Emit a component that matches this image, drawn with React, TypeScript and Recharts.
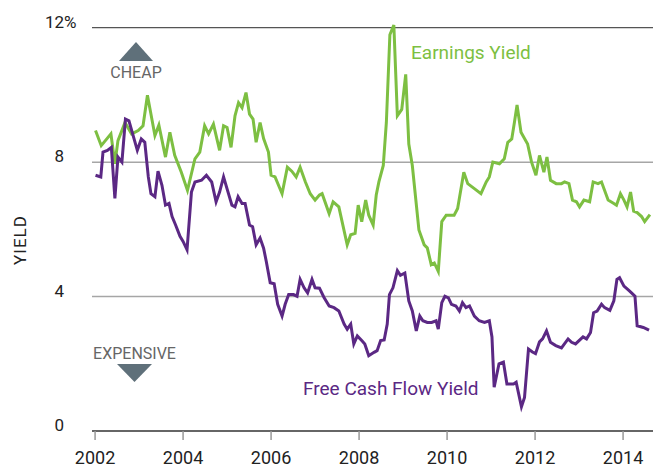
import { Line, LineChart, ReferenceLine, XAxis, YAxis } from "recharts";

const W = 657;
const H = 468;
const FONT = "Roboto, 'Open Sans', sans-serif";
const GREEN = "#7dbf42";
const PURPLE = "#5b2884";
const ARROW = "#5f707a";

const yearTicks = [2002, 2004, 2006, 2008, 2010, 2012, 2014];
const yieldTicks = [0, 4, 8, 12];

// [decimal year, yield %]
const earningsYield: [number, number][] = [
  [2002.01, 8.94], [2002.14, 8.49], [2002.36, 8.84], [2002.45, 7.95], [2002.52, 8.64],
  [2002.68, 9.18], [2002.83, 8.84], [2002.98, 8.94], [2003.09, 9.08], [2003.19, 9.99],
  [2003.36, 8.79], [2003.45, 9.1], [2003.6, 8.15], [2003.7, 8.89], [2003.81, 8.2],
  [2003.96, 7.7], [2004.1, 7.16], [2004.27, 8.1], [2004.38, 8.3], [2004.49, 9.08],
  [2004.58, 8.84], [2004.69, 9.13], [2004.83, 8.35], [2004.92, 9.08], [2005.0, 9.03],
  [2005.09, 8.44], [2005.18, 9.38], [2005.26, 9.77], [2005.34, 9.62], [2005.43, 10.07],
  [2005.51, 9.43], [2005.59, 9.28], [2005.66, 8.59], [2005.75, 9.18], [2005.83, 8.7],
  [2005.94, 8.3], [2006.0, 7.61], [2006.09, 7.56], [2006.25, 7.06], [2006.37, 7.85],
  [2006.47, 7.73], [2006.57, 7.56], [2006.66, 7.85], [2006.78, 7.41], [2006.89, 7.06],
  [2007.0, 6.87], [2007.1, 7.02], [2007.16, 7.06], [2007.32, 6.47], [2007.41, 6.82],
  [2007.54, 6.67], [2007.73, 5.54], [2007.81, 5.84], [2007.91, 5.88], [2007.98, 6.72],
  [2008.06, 6.23], [2008.15, 6.87], [2008.22, 6.42], [2008.32, 6.13], [2008.39, 7.02],
  [2008.45, 7.41], [2008.55, 7.9], [2008.62, 9.18], [2008.7, 11.79], [2008.79, 12.08],
  [2008.87, 9.38], [2008.97, 9.57], [2009.06, 10.61], [2009.13, 8.54], [2009.21, 7.9],
  [2009.36, 5.98], [2009.48, 5.54], [2009.55, 5.45], [2009.64, 4.95], [2009.71, 5.0],
  [2009.8, 4.75], [2009.88, 6.23], [2009.98, 6.42], [2010.16, 6.42], [2010.24, 6.62],
  [2010.38, 7.7], [2010.47, 7.36], [2010.62, 7.21], [2010.77, 7.06], [2010.89, 7.41],
  [2010.96, 7.56], [2011.04, 8.0], [2011.19, 7.95], [2011.3, 8.1], [2011.38, 8.59],
  [2011.47, 8.69], [2011.53, 9.18], [2011.59, 9.7], [2011.68, 8.89], [2011.83, 8.54],
  [2011.92, 8.0], [2012.02, 7.61], [2012.1, 8.2], [2012.2, 7.7], [2012.27, 8.15],
  [2012.35, 7.46], [2012.48, 7.36], [2012.6, 7.36], [2012.67, 7.41], [2012.77, 7.36],
  [2012.85, 6.87], [2012.94, 6.82], [2013.01, 6.67], [2013.11, 6.87], [2013.24, 6.82],
  [2013.32, 7.41], [2013.43, 7.36], [2013.51, 7.41], [2013.66, 6.87], [2013.79, 6.77],
  [2013.85, 6.72], [2013.94, 7.06], [2014.02, 6.87], [2014.09, 6.67], [2014.17, 7.11],
  [2014.24, 6.54], [2014.32, 6.5], [2014.42, 6.38], [2014.49, 6.23], [2014.61, 6.44],
];

const freeCashFlowYield: [number, number][] = [
  [2002.01, 7.61], [2002.13, 7.56], [2002.18, 8.3], [2002.28, 8.35], [2002.37, 8.44],
  [2002.45, 6.92], [2002.52, 8.15], [2002.61, 8.0], [2002.69, 9.28], [2002.77, 9.23],
  [2002.96, 8.35], [2003.05, 8.69], [2003.13, 8.59], [2003.21, 7.56], [2003.27, 7.06],
  [2003.36, 6.97], [2003.43, 7.73], [2003.52, 7.31], [2003.6, 6.72], [2003.68, 6.77],
  [2003.75, 6.38], [2003.83, 6.13], [2003.93, 5.79], [2004.0, 5.64], [2004.09, 5.39],
  [2004.19, 7.11], [2004.27, 7.41], [2004.42, 7.46], [2004.53, 7.61], [2004.65, 7.41],
  [2004.75, 6.82], [2004.83, 7.11], [2004.92, 7.56], [2005.01, 7.16], [2005.11, 6.72],
  [2005.18, 6.67], [2005.25, 6.97], [2005.34, 6.77], [2005.41, 6.77], [2005.51, 6.13],
  [2005.58, 6.08], [2005.66, 5.54], [2005.75, 5.74], [2005.83, 5.44], [2005.89, 5.05],
  [2005.98, 4.41], [2006.07, 4.38], [2006.15, 3.77], [2006.25, 3.42], [2006.32, 3.77],
  [2006.4, 4.06], [2006.51, 4.06], [2006.59, 4.01], [2006.66, 4.51], [2006.75, 4.26],
  [2006.83, 4.11], [2006.93, 4.51], [2007.0, 4.26], [2007.1, 4.25], [2007.2, 3.98],
  [2007.32, 3.72], [2007.43, 3.67], [2007.54, 3.57], [2007.66, 3.18], [2007.73, 3.03],
  [2007.81, 3.18], [2007.88, 2.59], [2007.96, 2.83], [2008.06, 2.69], [2008.13, 2.59],
  [2008.22, 2.24], [2008.34, 2.34], [2008.41, 2.39], [2008.49, 2.69], [2008.57, 2.71],
  [2008.64, 3.18], [2008.69, 4.06], [2008.77, 4.26], [2008.87, 4.77], [2008.94, 4.63],
  [2009.04, 4.7], [2009.13, 3.87], [2009.21, 3.57], [2009.3, 2.98], [2009.38, 3.42],
  [2009.45, 3.28], [2009.55, 3.23], [2009.65, 3.23], [2009.75, 3.28], [2009.8, 3.03],
  [2009.88, 3.82], [2009.95, 4.01], [2010.03, 3.96], [2010.1, 3.77], [2010.2, 3.72],
  [2010.28, 3.57], [2010.35, 3.82], [2010.43, 3.67], [2010.51, 3.72], [2010.62, 3.42],
  [2010.73, 3.28], [2010.85, 3.23], [2010.96, 3.28], [2011.02, 2.8], [2011.07, 1.3],
  [2011.18, 2.0], [2011.28, 2.05], [2011.36, 1.4], [2011.51, 1.4], [2011.57, 1.45],
  [2011.69, 0.72], [2011.76, 1.0], [2011.85, 2.44], [2011.94, 2.35], [2012.01, 2.3],
  [2012.1, 2.65], [2012.17, 2.74], [2012.26, 2.98], [2012.35, 2.64], [2012.47, 2.54],
  [2012.6, 2.47], [2012.75, 2.74], [2012.83, 2.64], [2012.92, 2.59], [2013.09, 2.8],
  [2013.17, 2.74], [2013.26, 2.93], [2013.33, 3.52], [2013.41, 3.57], [2013.51, 3.77],
  [2013.58, 3.67], [2013.7, 3.59], [2013.79, 3.87], [2013.86, 4.51], [2013.92, 4.56],
  [2014.02, 4.31], [2014.15, 4.16], [2014.27, 4.01], [2014.32, 3.13], [2014.46, 3.08],
  [2014.59, 3.0],
];

const toRows = (pts: [number, number][]) => pts.map(([t, v]) => ({ t, v }));

function YieldTick(props: any) {
  const { y, payload } = props;
  return (
    <g>
      <text x={64} y={y - 6} dy="0.35em" textAnchor="end" fontSize={17} fill="#222" fontFamily={FONT}>
        {payload.value}
      </text>
      {payload.value === 12 && (
        <text x={64} y={y - 6} dy="0.35em" textAnchor="start" fontSize={17} fill="#222" fontFamily={FONT}>
          %
        </text>
      )}
    </g>
  );
}

export default function App() {
  return (
    <div style={{ position: "absolute", left: 0, top: 0, width: W, height: H, background: "#fff" }}>
      <LineChart width={W} height={H} margin={{ top: 25, right: 4, bottom: 0, left: 0 }}>
        <XAxis
          dataKey="t"
          type="number"
          domain={[2001.93, 2014.68]}
          ticks={yearTicks}
          allowDataOverflow
          height={37}
          axisLine={{ stroke: "#666", strokeWidth: 2 }}
          tickLine={{ stroke: "#999", strokeWidth: 1.5 }}
          tickSize={9}
          tickMargin={11}
          tick={{ fill: "#222", fontSize: 18, fontFamily: FONT }}
        />
        <YAxis
          type="number"
          domain={[0, 12]}
          ticks={yieldTicks}
          width={92}
          axisLine={false}
          tickLine={false}
          tick={<YieldTick />}
        />
        <ReferenceLine y={4} stroke="#a6a6a6" strokeWidth={1.5} />
        <ReferenceLine y={8} stroke="#a6a6a6" strokeWidth={1.5} />
        <ReferenceLine y={12} stroke="#555" strokeWidth={1.2} />
        <Line
          data={toRows(earningsYield)}
          dataKey="v"
          stroke={GREEN}
          strokeWidth={3}
          dot={false}
          isAnimationActive={false}
        />
        <Line
          data={toRows(freeCashFlowYield)}
          dataKey="v"
          stroke={PURPLE}
          strokeWidth={3}
          dot={false}
          isAnimationActive={false}
        />
      </LineChart>
      <svg
        width={W}
        height={H}
        style={{ position: "absolute", left: 0, top: 0, pointerEvents: "none" }}
        fontFamily={FONT}
      >
        <text
          x={20}
          y={240}
          transform="rotate(-90 20 240)"
          textAnchor="middle"
          dominantBaseline="central"
          fontSize={17}
          letterSpacing={1}
          fill="#222"
        >
          YIELD
        </text>
        <polygon points="119,61 153,61 136,42" fill={ARROW} />
        <text x={136} y={72} textAnchor="middle" dominantBaseline="central" fontSize={16} fill="#666">
          CHEAP
        </text>
        <text x={134.5} y={353} textAnchor="middle" dominantBaseline="central" fontSize={16} fill="#666">
          EXPENSIVE
        </text>
        <polygon points="117,364 152,364 134.5,382" fill={ARROW} />
        <text x={411} y={52} dominantBaseline="central" fontSize={19} fill={GREEN}>
          Earnings Yield
        </text>
        <text x={303} y={388} dominantBaseline="central" fontSize={19} fill={PURPLE}>
          Free Cash Flow Yield
        </text>
      </svg>
    </div>
  );
}
